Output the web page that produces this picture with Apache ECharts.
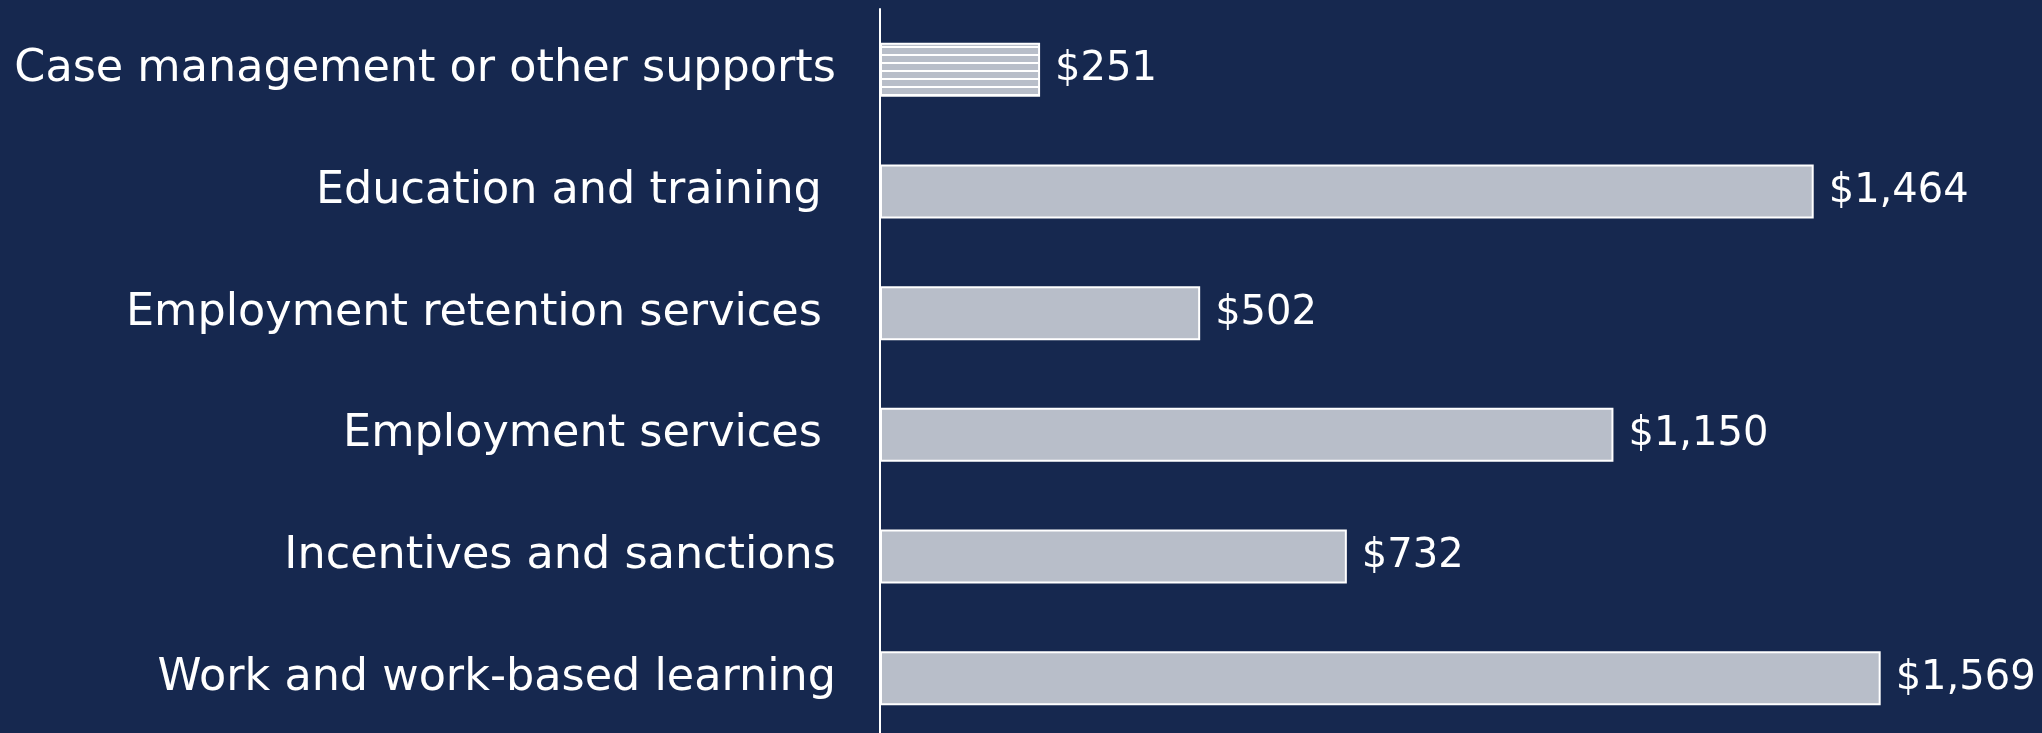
<!DOCTYPE html>
<html>
<head>
<meta charset="utf-8">
<script src="https://cdn.jsdelivr.net/npm/echarts@6/dist/echarts.min.js"></script>
<style>
  html, body { margin: 0; padding: 0; background: #16284f; overflow: hidden; }
  #chart { width: 2042px; height: 745px; }
</style>
</head>
<body>
<div id="chart"></div>
<script>
// categories top to bottom
var categories = [
  'Case management or other supports',
  'Education and training ',
  'Employment retention services ',
  'Employment services ',
  'Incentives and sanctions',
  'Work and work-based learning'
];
var costs = [251, 1464, 502, 1150, 732, 1569];
var hatched = [true, false, false, false, false, false];

// striped fill for the first bar
function stripes() {
  var c = document.createElement('canvas');
  c.width = 8; c.height = 8;
  var ctx = c.getContext('2d');
  ctx.fillStyle = '#b8bec9';
  ctx.fillRect(0, 0, 8, 8);
  ctx.fillStyle = '#ffffff';
  ctx.fillRect(0, 6, 8, 2);
  return c;
}
var stripeImg = stripes();

var barData = costs.map(function (v, i) {
  var d = { value: v };
  if (hatched[i]) d.itemStyle = { color: { image: stripeImg, repeat: 'repeat' } };
  return d;
});

var myChart = echarts.init(document.getElementById('chart'));
myChart.setOption({
  backgroundColor: '#16284f',
  animation: false,
  grid: { left: 880, top: 9, width: 1148, height: 730 },
  xAxis: {
    type: 'value', min: 0, max: 1800, show: false
  },
  yAxis: {
    type: 'category',
    inverse: true,
    data: categories,
    axisLine: { show: true, lineStyle: { color: '#ffffff', width: 2 } },
    axisTick: { show: false },
    axisLabel: {
      color: '#ffffff',
      fontFamily: 'DejaVu Sans',
      fontSize: 44.5,
      margin: 44
    }
  },
  series: [{
    type: 'bar',
    data: barData,
    barWidth: 54,
    itemStyle: { color: '#b8bec9', borderColor: '#ffffff', borderWidth: 2 },
    label: {
      show: true,
      position: 'right',
      distance: 15,
      color: '#ffffff',
      fontFamily: 'DejaVu Sans',
      fontSize: 40,
      formatter: function (p) {
        return '$' + p.value.toLocaleString('en-US');
      }
    }
  }]
});
</script>
</body>
</html>
